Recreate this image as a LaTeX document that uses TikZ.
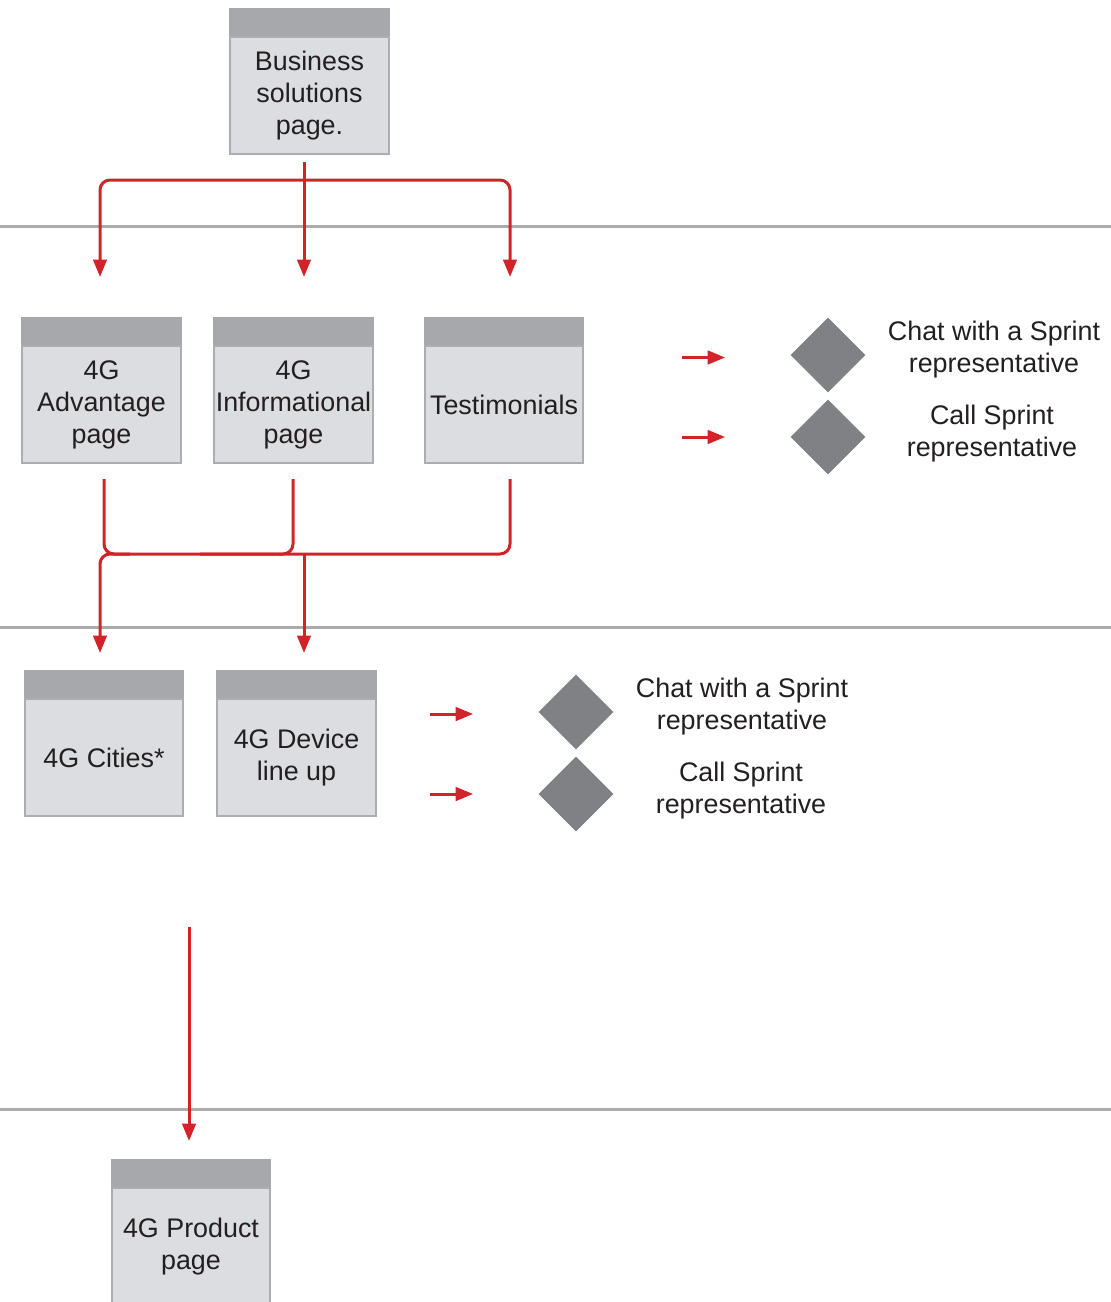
\documentclass[tikz,border=0pt]{standalone}
\usepackage{fontspec}
\setmainfont{Liberation Sans}
\usetikzlibrary{arrows.meta,shapes.geometric}
\definecolor{spred}{RGB}{210,35,42}
\definecolor{spdia}{RGB}{128,129,132}
\definecolor{sphead}{RGB}{167,168,172}
\definecolor{spbody}{RGB}{220,221,224}
\definecolor{spedge}{RGB}{172,173,176}
\definecolor{spsep}{RGB}{170,171,173}
\definecolor{sptext}{RGB}{35,31,32}

\begin{document}
\begin{tikzpicture}[
  x=0.02cm,y=-0.02cm,
  every node/.style={font=\fontsize{15.3}{18.2}\selectfont,text=sptext},
  pagebox/.style={draw=spedge,line width=0.04cm,fill=spbody,minimum width=3.18cm,
                  minimum height=2.34cm,inner sep=0pt,align=center,
                  label={[anchor=south,fill=sphead,minimum width=3.22cm,
                          minimum height=0.56cm,inner sep=0pt]north:{}}},
  action/.style={diamond,fill=spdia,minimum width=1.5cm,minimum height=1.5cm,inner sep=0pt},
  note/.style={align=center},
  line/.style={spred,line width=0.06cm,rounded corners=0.2cm},
  arr/.style={line,-{Triangle[length=0.35cm,width=0.27cm]}},
  sepline/.style={spsep,line width=0.06cm},
]
  \useasboundingbox (0,0) rectangle (1111,1302);

  % Lane separators
  \draw[sepline] (0,226) -- (1111,226);
  \draw[sepline] (0,627) -- (1111,627);
  \draw[sepline] (0,1109) -- (1111,1109);

  % Top lane
  \node[pagebox] (biz) at (309.5,95.5) {Business\\solutions\\page.};

  % Second lane
  \node[pagebox] (adv) at (101.5,404.5) {4G\\Advantage\\page};
  \node[pagebox] (inf) at (293.5,404.5) {4G\\Informational\\page};
  \node[pagebox] (tst) at (504,404.5) {Testimonials};
  \node[action] (chat1) at (828,355) {};
  \node[action] (call1) at (828,437) {};
  \node[note] (chat1txt) at (994,350) {Chat with a Sprint\\representative};
  \node[note] (call1txt) at (992,434) {Call Sprint\\representative};

  % Third lane
  \node[pagebox] (cit) at (104,757.5) {4G Cities*};
  \node[pagebox] (dev) at (296.5,757.5) {4G Device\\line up};
  \node[action] (chat2) at (576,712) {};
  \node[action] (call2) at (576,794) {};
  \node[note] (chat2txt) at (742,707) {Chat with a Sprint\\representative};
  \node[note] (call2txt) at (741,791) {Call Sprint\\representative};

  % Bottom lane
  \node[pagebox] (prd) at (191,1246.5) {4G Product\\page};

  % Free ends of the connectors
  \coordinate (bizout) at (304,162);
  \coordinate (split) at (304,180);
  \coordinate (advin) at (100,277);
  \coordinate (infin) at (304,277);
  \coordinate (tstin) at (510,277);
  \coordinate (advout) at (104,479);
  \coordinate (infout) at (293,479);
  \coordinate (tstout) at (510,479);
  \coordinate (merge) at (304,554);
  \coordinate (citin) at (100,653);
  \coordinate (devin) at (304,653);
  \coordinate (citout) at (189,927);
  \coordinate (prdin) at (189,1141);

  % Business page fans out
  \draw[arr] (bizout) -- (infin);
  \draw[arr] (split) -| (advin);
  \draw[arr] (split) -| (tstin);

  % Second lane joins
  \draw[line] (advout) |- (merge) -| (tstout);
  \draw[line] (infout) |- (200,554);
  \draw[arr] (130,554) -| (citin);
  \draw[arr] (merge) -- (devin);
  \draw[arr] (citout) -- (prdin);

  % Arrows to the actions
  \draw[arr] ([xshift=-2.16cm,yshift=-0.05cm]chat1.west) -- ([xshift=-1.3cm,yshift=-0.05cm]chat1.west);
  \draw[arr] ([xshift=-2.16cm]call1.west) -- ([xshift=-1.3cm]call1.west);
  \draw[arr] ([xshift=-2.16cm,yshift=-0.04cm]chat2.west) -- ([xshift=-1.3cm,yshift=-0.04cm]chat2.west);
  \draw[arr] ([xshift=-2.16cm]call2.west) -- ([xshift=-1.3cm]call2.west);
\end{tikzpicture}
\end{document}
